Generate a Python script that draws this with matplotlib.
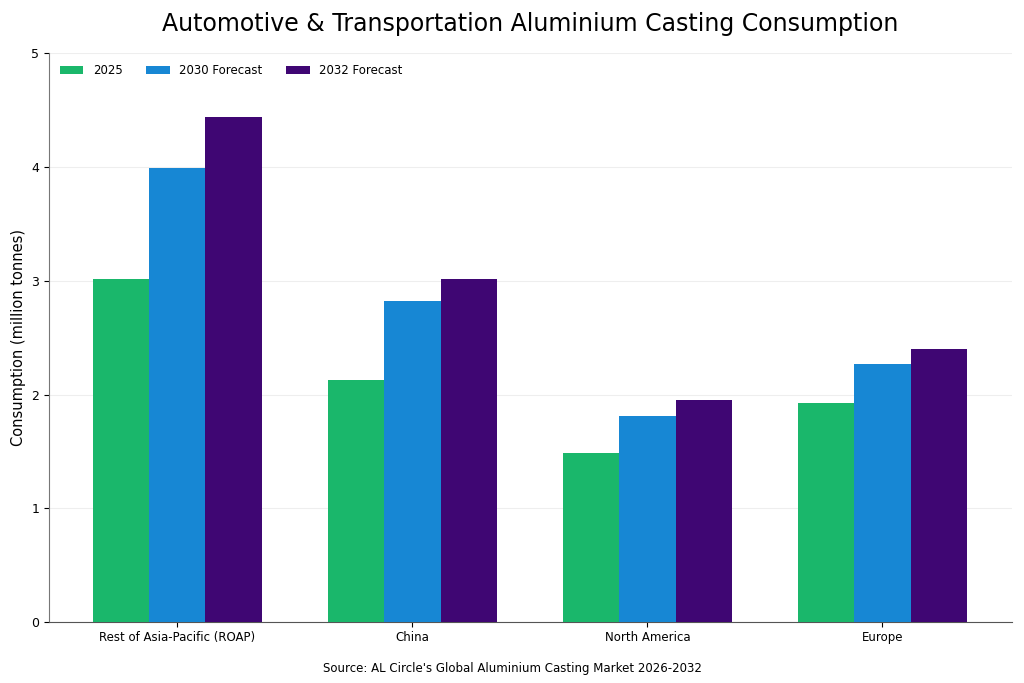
import matplotlib
matplotlib.use("Agg")
import matplotlib.pyplot as plt
import numpy as np

regions = ["Rest of Asia-Pacific (ROAP)", "China", "North America", "Europe"]
series_names = ["2025", "2030 Forecast", "2032 Forecast"]
v2025 = [3.02, 2.13, 1.49, 1.93]
v2030 = [3.99, 2.82, 1.81, 2.27]
v2032 = [4.44, 3.02, 1.95, 2.40]
colors = ["#1ab76b", "#1787d4", "#3f0673"]

fig, ax = plt.subplots(figsize=(10.24, 6.83), dpi=100)
fig.subplots_adjust(left=0.048, right=0.988, top=0.922, bottom=0.089)

x = np.arange(len(regions))
w = 0.24
for i, (vals, name) in enumerate(zip([v2025, v2030, v2032], series_names)):
    ax.bar(x + (i - 1) * w, vals, w, label=name, color=colors[i], zorder=3)

ax.set_xticks(x)
ax.set_xticklabels(regions, fontsize=8.5)
ax.tick_params(axis="x", pad=3)
ax.set_xlim(-0.545, 3.55)
ax.set_ylim(0, 5)
ax.set_yticks([0, 1, 2, 3, 4, 5])
ax.tick_params(axis="y", labelsize=9)
ax.set_ylabel("Consumption (million tonnes)", fontsize=10.5)
ax.set_title("Automotive & Transportation Aluminium Casting Consumption", fontsize=17, pad=16)
ax.yaxis.grid(True, color="#eeeeee", linewidth=0.8, zorder=0)
ax.spines["top"].set_visible(False)
ax.spines["right"].set_visible(False)
ax.spines["left"].set_color("#777777")
ax.spines["bottom"].set_color("#555555")
ax.legend(loc="upper left", ncol=3, frameon=False, fontsize=8.5, columnspacing=2.0,
          bbox_to_anchor=(0, 1.0))

fig.text(0.5, 0.016, "Source: AL Circle's Global Aluminium Casting Market 2026-2032",
         ha="center", fontsize=8.5)

fig.savefig("out.png", dpi=100)
